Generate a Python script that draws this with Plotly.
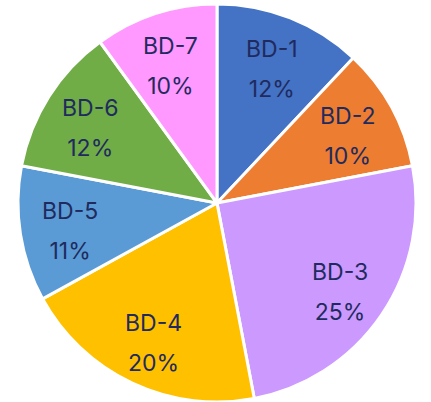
import math
import plotly.graph_objects as go

labels = ["BD-1", "BD-2", "BD-3", "BD-4", "BD-5", "BD-6", "BD-7"]
values = [12, 10, 25, 20, 11, 12, 10]
colors = ["#4472C4", "#ED7D31", "#CC99FF", "#FFC000", "#5B9BD5", "#70AD47", "#FF99FF"]

W, H = 431, 402
ML, MR, MT, MB = 3, 0, 4, 0
label_radius_frac = 0.75

fig = go.Figure(go.Pie(
    labels=labels,
    values=values,
    sort=False,
    direction="clockwise",
    rotation=0,
    marker=dict(colors=colors, line=dict(color="white", width=3)),
    textinfo="none",
    hoverinfo="skip",
    showlegend=False,
))

# label positions derived from the slice angles
pw, ph = W - ML - MR, H - MT - MB
R = min(pw, ph) / 2
total = sum(values)
cum = 0
annotations = []
for lab, v in zip(labels, values):
    mid = (cum + v / 2) / total * 2 * math.pi
    cum += v
    dx = label_radius_frac * R * math.sin(mid)
    dy = label_radius_frac * R * math.cos(mid)
    annotations.append(dict(
        x=0.5 + dx / pw, y=0.5 + dy / ph, xref="paper", yref="paper",
        xanchor="center", yanchor="middle", showarrow=False, yshift=-5,
        text=f"<span style='font-size:23px'>{lab}</span><br><span style='font-size:23px'>{round(v / total * 100)}%</span>",
        font=dict(family="Inter, Lato, sans-serif", size=31, color="#1F2B5E"),
    ))

fig.update_layout(
    width=W, height=H,
    margin=dict(l=ML, r=MR, t=MT, b=MB),
    paper_bgcolor="white",
    plot_bgcolor="white",
    annotations=annotations,
)
fig.write_html("out.html", config={"displayModeBar": False},
               post_script="document.body.style.margin='0';")
